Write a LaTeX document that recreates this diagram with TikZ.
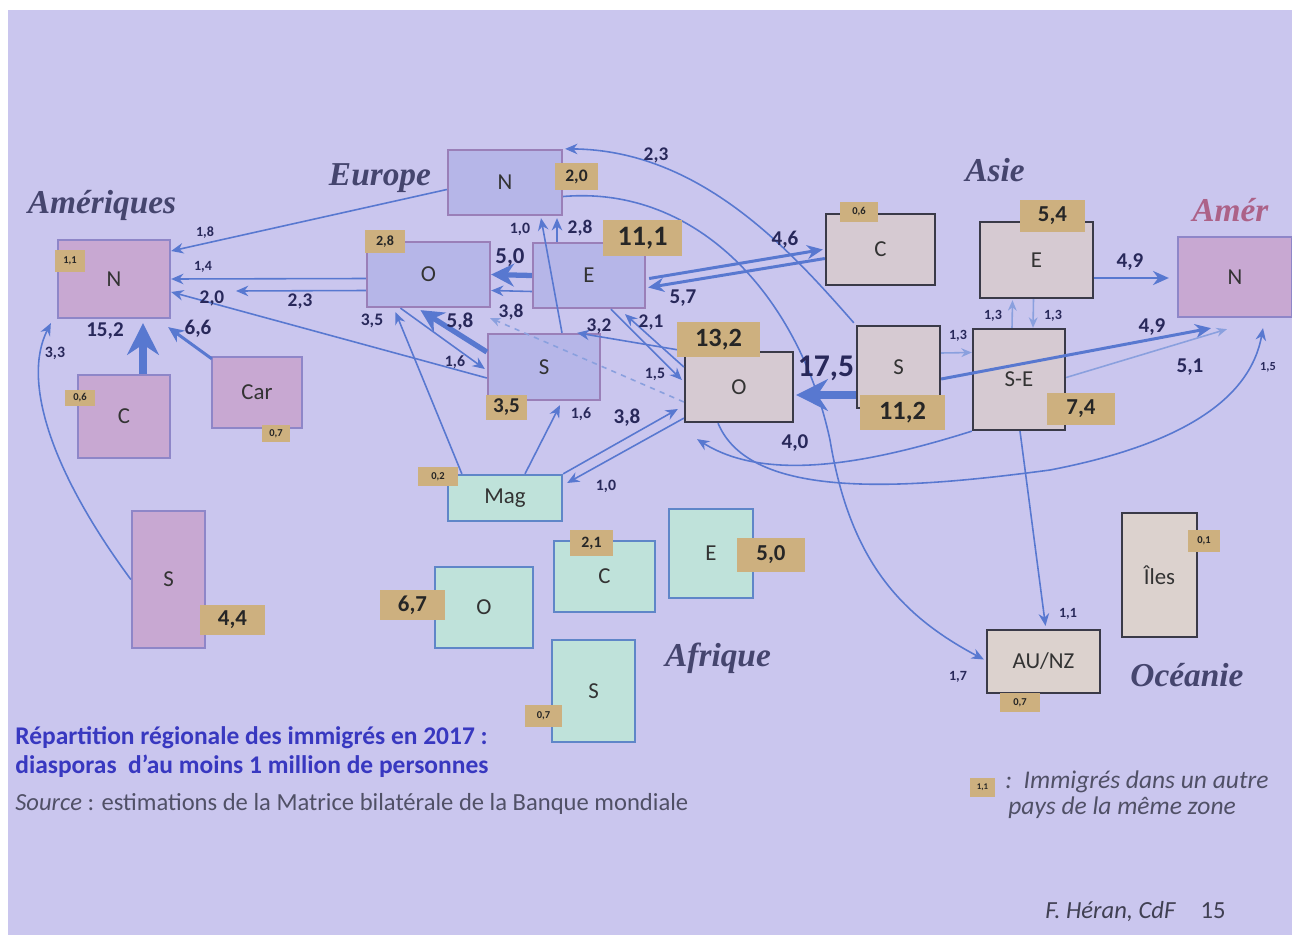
\documentclass[tikz,border=0pt]{standalone}
\usepackage{fontspec}
\setmainfont{Carlito}
\newfontfamily\titlefont{Liberation Serif}
\usetikzlibrary{arrows.meta,fit,calc}
\definecolor{bg}{HTML}{CAC6EE}
\definecolor{amfill}{HTML}{C8A8D2}
\definecolor{amline}{HTML}{8E86C8}
\definecolor{eufill}{HTML}{B6B6E8}
\definecolor{euline}{HTML}{9A7FB8}
\definecolor{asfill}{HTML}{D6CAD2}
\definecolor{asline}{HTML}{3A3A48}
\definecolor{affill}{HTML}{BFE2DA}
\definecolor{afline}{HTML}{5F86C8}
\definecolor{ocfill}{HTML}{DCD2CE}
\definecolor{tagc}{HTML}{CDB07F}
\definecolor{flowc}{HTML}{5878D0}
\definecolor{numc}{HTML}{28285A}
\definecolor{titc}{HTML}{45456E}
\definecolor{legblue}{HTML}{3838C0}
\definecolor{srcgray}{HTML}{505066}
\tikzset{
  box/.style={draw, line width=1.3pt, inner sep=0pt},
  btxt/.style={inner sep=0pt, text=black!80, font=\fontsize{13}{13}\selectfont},
  amb/.style={box, fill=amfill, draw=amline},
  eub/.style={box, fill=eufill, draw=euline},
  asb/.style={box, fill=asfill, draw=asline},
  afb/.style={box, fill=affill, draw=afline},
  ocb/.style={box, fill=ocfill, draw=asline},
  tag/.style={fill=tagc, inner sep=0pt},
  ttxt/.style={inner sep=0pt, text=black!85, font=\fontsize{#1}{#1}\selectfont\bfseries},
  num/.style={inner sep=0pt, text=numc, font=\fontsize{#1}{#1}\selectfont\bfseries},
  ttl/.style={inner sep=0pt, text=titc, font=\titlefont\fontsize{19}{19}\selectfont\bfseries\itshape},
  flow/.style={draw=flowc, line width=0.9pt, -{Stealth[length=7pt,width=6pt]}},
  flowl/.style={draw=flowc!70, line width=0.9pt, -{Stealth[length=6pt,width=5pt]}},
  flowm/.style={draw=flowc, line width=1.7pt, -{Stealth[length=9pt,width=8pt]}},
  flowt/.style={draw=flowc, line width=3pt, -{Stealth[length=13pt,width=13pt]}},
  flowx/.style={draw=flowc, line width=4.5pt, -{Stealth[length=18pt,width=18pt]}},
}
\begin{document}
\begin{tikzpicture}[x=0.02cm,y=-0.02cm]
\useasboundingbox (0,0) rectangle (1292,940);
\fill[white] (0,0) rectangle (1292,940);
\fill[bg] (8,10) rectangle (1292,935);

% ---------- titles
\node[ttl] (tAm) at (102,205) {Amériques};
\node[ttl] (tEu) at (380,178) {Europe};
\node[ttl] (tAs) at (995,170) {Asie};
\node[ttl, anchor=west, text=titc!45!purple!70!white] (tAm2) at (1192,210) {Amér};
\node[ttl] (tAf) at (718,658) {Afrique};
\node[ttl] (tOc) at (1187,675) {Océanie};

% ---------- Amériques
\node[amb, fit={(58,240) (170,318)}, label={[btxt]center:N}] (amN) {};
\node[amb, fit={(78,375) (170,458)}, label={[btxt]center:C}] (amC) {};
\node[amb, fit={(212,357) (302,428)}, label={[btxt]center:Car}] (amCar) {};
\node[amb, fit={(132,511) (205,648)}, label={[btxt]center:S}] (amS) {};
\node[amb, fit={(1178,237) (1292,317)}, label={[btxt]center:N}] (amN2) {};

% ---------- Europe
\node[eub, fit={(448,150) (562,215)}, label={[btxt]center:N}] (euN) {};
\node[eub, fit={(367,242) (490,307)}, label={[btxt]center:O}] (euO) {};
\node[eub, fit={(533,243) (645,308)}, label={[btxt]center:E}] (euE) {};
\node[eub, fit={(488,334) (600,400)}, label={[btxt]center:S}] (euS) {};

% ---------- Asie
\node[asb, fit={(826,214) (935,285)}, label={[btxt]center:C}] (asC) {};
\node[asb, fit={(980,222) (1093,298)}, label={[btxt]center:E}] (asE) {};
\node[asb, fit={(857,326) (940,408)}, label={[btxt]center:S}] (asS) {};
\node[asb, fit={(973,329) (1065,430)}, label={[btxt]center:S-E}] (asSE) {};
\node[asb, fit={(685,352) (793,422)}, label={[btxt]center:O}] (asO) {};

% ---------- Afrique
\node[afb, fit={(448,475) (562,521)}, label={[btxt]center:Mag}] (afMag) {};
\node[afb, fit={(435,567) (533,648)}, label={[btxt]center:O}] (afO) {};
\node[afb, fit={(554,541) (655,612)}, label={[btxt]center:C}] (afC) {};
\node[afb, fit={(669,509) (753,598)}, label={[btxt]center:E}] (afE) {};
\node[afb, fit={(552,640) (635,742)}, label={[btxt]center:S}] (afS) {};

% ---------- Océanie
\node[ocb, fit={(987,630) (1100,693)}, label={[btxt]center:AU/NZ}] (ocAU) {};
\node[ocb, fit={(1122,513) (1197,637)}, label={[btxt]center:Îles}] (ocIl) {};

% ---------- connectors: Amériques
\draw[flow] ($(euN.west)+(0,7)$) -- ($(amN.east)+(0,-28)$);
\draw[flow] ($(euO.west)+(0,4)$) -- (amN.east);
\coordinate (e23) at (236,291);
\draw[flow] ($(euE.west)+(0,16)$) -- ($(euO.east)+(0,16)$);
\draw[flow] ($(euO.west)+(0,16)$) -- (e23);
\draw[flow] ($(euS.west)+(0,11)$) -- ($(amN.east)+(0,13)$);
\draw[flowx] ($(amC.north)+(19,0)$) -- ($(amN.south)+(29,4)$);
\draw[flowm] ($(amCar.north west)+(1,3)$) -- ($(amN.south east)+(-3,8)$);
\draw[flow] (amS.west) .. controls (50,470) and (22,380) .. ($(amN.south west)+(-6,4)$);

% ---------- connectors: Europe
\draw[flowt] (euE.west) -- (euO.east);
\draw[flow] ($(euE.north)+(-32,0)$) -- ($(euN.south)+(52,2)$);
\draw[flow] ($(euS.north)+(18,0)$) -- ($(euN.south)+(36,2)$);
\draw[flowt] ($(euS.west)+(0,-15)$) -- ($(euO.south)+(-8,2)$);
\draw[flow] ($(euO.south)+(-28,0)$) -- ($(euS.west)+(-2,2)$);
\coordinate (e38) at (490,318);
\draw[flowl, dash pattern=on 3pt off 3pt] ($(asO.west)+(0,15)$) -- (e38);
\draw[flow] ($(afMag.north west)+(15,0)$) -- ($(euO.south)+(-33,4)$);
\draw[flow] ($(afMag.north)+(20,0)$) -- ($(euS.south)+(16,4)$);
\draw[flow] (afMag.north east) -- ($(asO.west)+(-6,22)$);
\draw[flow] ($(asO.south west)+(0,-5)$) -- ($(afMag.east)+(4,-15)$);
\draw[flow] (asO.north west) -- ($(euS.north east)+(-24,0)$);
\draw[flow] ($(asO.west)+(0,-20)$) -- ($(euE.south)+(36,5)$);
\draw[flow] ($(euE.south)+(22,0)$) -- ($(asO.west)+(-2,-7)$);
\draw[flowm] ($(euE.east)+(3,3)$) -- ($(asC.west)+(-2,0)$);
\draw[flowm] ($(asC.west)+(0,9)$) -- ($(euE.east)+(2,12)$);

% ---------- connectors: Asie
\draw[flowx] ($(asS.west)+(0,28)$) -- ($(asO.east)+(2,8)$);
\draw[flowl] ($(asS.east)+(0,-14)$) -- ($(asSE.west)+(0,-27)$);
\draw[flowl] ($(asSE.north)+(-7,0)$) -- ($(asE.south)+(-24,1)$);
\draw[flowl] ($(asE.south)+(-3,0)$) -- ($(asSE.north)+(14,0)$);
\draw[flowm] ($(asE.east)+(0,18)$) -- ($(amN2.west)+(-8,1)$);
\draw[flowm] ($(asS.east)+(0,12)$) -- ($(amN2.south)+(-24,10)$);
\draw[flowl] ($(asSE.east)+(0,-2)$) -- ($(amN2.south)+(-8,11)$);
\draw[flow] ($(asO.south)+(-21,0)$) .. controls (750,500) and (900,490) .. (1050,470)
   .. controls (1180,445) and (1250,400) .. ($(amN2.south)+(28,10)$);
\draw[flow] (asSE.south west) .. controls (880,460) and (770,485) .. ($(asO.south)+(-42,16)$);
\draw[flow] ($(asS.north west)+(-2,-2)$) .. controls (790,250) and (700,150) .. ($(euN.north east)+(2,0)$);
\draw[flow] ($(euN.east)+(0,14)$) .. controls (700,185) and (800,300) .. (830,440)
   .. controls (850,560) and (900,615) .. ($(ocAU.west)+(-2,-2)$);
\draw[flow] ($(asSE.south)+(1,0)$) -- ($(ocAU.north)+(2,-3)$);

% ---------- tags (same zone)
\node[tag, fit={(55,250) (85,272)}, label={[ttxt=6]center:{1,1}}] (g1) {};
\node[tag, fit={(65,390) (95,406)}, label={[ttxt=6]center:{0,6}}] (g2) {};
\node[tag, fit={(262,425) (290,442)}, label={[ttxt=6]center:{0,7}}] (g3) {};
\node[tag, fit={(200,605) (265,635)}, label={[ttxt=13]center:{4,4}}] (g4) {};
\node[tag, fit={(555,163) (598,190)}, label={[ttxt=10]center:{2,0}}] (g5) {};
\node[tag, fit={(365,230) (405,253)}, label={[ttxt=8]center:{2,8}}] (g6) {};
\node[tag, fit={(603,220) (682,256)}, label={[ttxt=16]center:{11,1}}] (g7) {};
\node[tag, fit={(486,395) (527,420)}, label={[ttxt=12]center:{3,5}}] (g8) {};
\node[tag, fit={(840,202) (878,222)}, label={[ttxt=6]center:{0,6}}] (g9) {};
\node[tag, fit={(1020,200) (1085,232)}, label={[ttxt=13]center:{5,4}}] (g10) {};
\node[tag, fit={(860,395) (945,430)}, label={[ttxt=15]center:{11,2}}] (g11) {};
\node[tag, fit={(1047,393) (1115,425)}, label={[ttxt=13]center:{7,4}}] (g12) {};
\node[tag, fit={(677,322) (760,357)}, label={[ttxt=15]center:{13,2}}] (g13) {};
\node[tag, fit={(418,467) (458,486)}, label={[ttxt=6]center:{0,2}}] (g14) {};
\node[tag, fit={(380,590) (445,620)}, label={[ttxt=13]center:{6,7}}] (g15) {};
\node[tag, fit={(570,530) (613,556)}, label={[ttxt=9]center:{2,1}}] (g16) {};
\node[tag, fit={(737,538) (805,572)}, label={[ttxt=13]center:{5,0}}] (g17) {};
\node[tag, fit={(525,705) (562,727)}, label={[ttxt=6]center:{0,7}}] (g18) {};
\node[tag, fit={(1000,693) (1040,712)}, label={[ttxt=6]center:{0,7}}] (g19) {};
\node[tag, fit={(1188,530) (1220,552)}, label={[ttxt=6]center:{0,1}}] (g20) {};

% ---------- flow numbers
\node[num=8] (n1) at (205,233) {1,8};
\node[num=8] (n2) at (203,267) {1,4};
\node[num=11] (n3) at (212,298) {2,0};
\node[num=11] (n4) at (300,301) {2,3};
\node[num=12] (n5) at (105,331) {15,2};
\node[num=12] (n6) at (198,329) {6,6};
\node[num=9] (n7) at (55,353) {3,3};
\node[num=9] (n8) at (520,229) {1,0};
\node[num=11] (n9) at (580,228) {2,8};
\node[num=13] (n10) at (510,258) {5,0};
\node[num=10] (n11) at (372,321) {3,5};
\node[num=12] (n12) at (460,322) {5,8};
\node[num=11] (n13) at (511,312) {3,8};
\node[num=11] (n14) at (599,326) {3,2};
\node[num=11] (n15) at (651,322) {2,1};
\node[num=9] (n16) at (655,374) {1,5};
\node[num=9] (n17) at (455,362) {1,6};
\node[num=9] (n18) at (581,414) {1,6};
\node[num=12] (n19) at (627,418) {3,8};
\node[num=9] (n20) at (606,486) {1,0};
\node[num=11] (n21) at (656,155) {2,3};
\node[num=12] (n22) at (785,240) {4,6};
\node[num=12] (n23) at (683,298) {5,7};
\node[num=18] (n24) at (826,368) {17,5};
\node[num=8] (n25) at (958,336) {1,3};
\node[num=8] (n26) at (993,316) {1,3};
\node[num=8] (n27) at (1053,316) {1,3};
\node[num=12] (n28) at (1130,262) {4,9};
\node[num=12] (n29) at (1152,327) {4,9};
\node[num=12] (n30) at (1190,367) {5,1};
\node[num=7] (n31) at (1268,367) {1,5};
\node[num=12] (n32) at (795,443) {4,0};
\node[num=8] (n33) at (1068,614) {1,1};
\node[num=8] (n34) at (958,677) {1,7};

% ---------- legends
\node[anchor=west, inner sep=0pt, text=legblue, font=\fontsize{14.5}{14.5}\selectfont\bfseries] (lg1) at (15,738) {Répartition régionale des immigrés en 2017 :};
\node[anchor=west, inner sep=0pt, text=legblue, font=\fontsize{14.5}{14.5}\selectfont\bfseries] (lg2) at (15,766) {diasporas\ \ d’au moins 1 million de personnes};
\node[anchor=west, inner sep=0pt, text=srcgray, font=\fontsize{14}{14}\selectfont] (lg3) at (15,804) {\textit{Source} : estimations de la Matrice bilatérale de la Banque mondiale};
\node[tag, fit={(970,778) (995,797)}, label={[ttxt=5]center:{1,1}}] (lgt) {};
\node[anchor=west, inner sep=0pt, text=srcgray, font=\fontsize{14.5}{14.5}\selectfont\itshape] (lg4) at (1005,782) {:\ \ Immigrés dans un autre};
\node[anchor=west, inner sep=0pt, text=srcgray, font=\fontsize{14.5}{14.5}\selectfont\itshape] (lg5) at (1008,808) {pays de la même zone};
\node[anchor=west, inner sep=0pt, text=srcgray!80!black, font=\fontsize{14}{14}\selectfont] (lg6) at (1045,912) {\textit{F. Héran, CdF}\quad 15};
\end{tikzpicture}
\end{document}
